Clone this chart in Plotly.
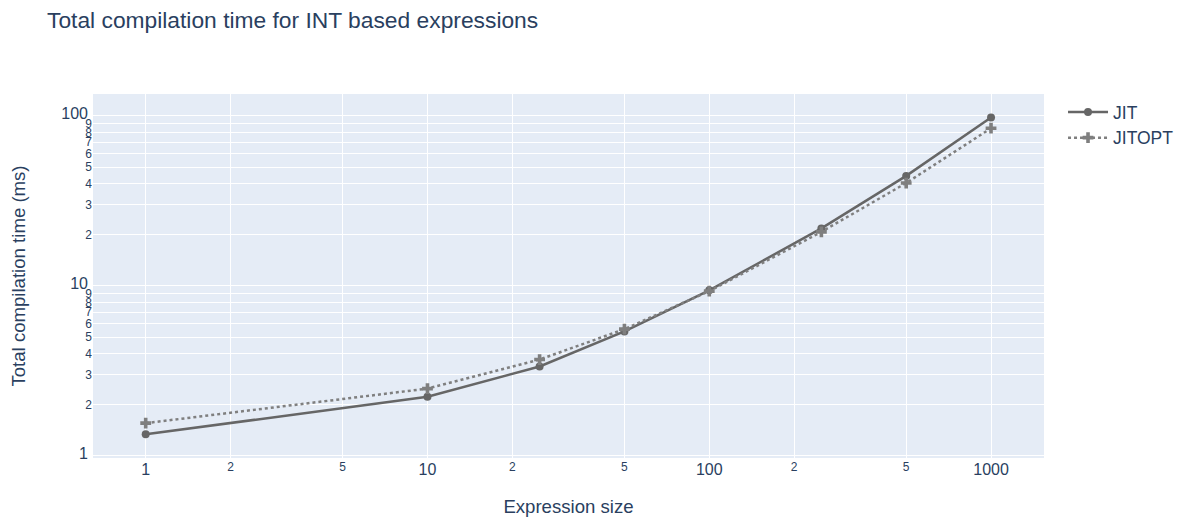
import plotly.graph_objects as go

sizes = [1, 10, 25, 50, 100, 250, 500, 1000]
jit = [1.34, 2.23, 3.36, 5.40, 9.42, 21.8, 44.4, 98.0]
jitopt = [1.56, 2.49, 3.69, 5.57, 9.32, 20.8, 40.3, 84.7]

W, H = 1181, 517

fig = go.Figure()
fig.add_trace(go.Scatter(x=sizes, y=jit, name="JIT", mode="lines+markers",
                         line=dict(color="#666666", width=2.5),
                         marker=dict(symbol="circle", size=8, color="#666666")))
fig.add_trace(go.Scatter(x=sizes, y=jitopt, name="JITOPT", mode="lines+markers",
                         line=dict(color="#7f7f7f", width=2.5, dash="dot"),
                         marker=dict(symbol="cross", size=9, color="#7f7f7f")))

fig.update_layout(
    template="plotly",
    width=W, height=H,
    font=dict(family="Liberation Sans, Arial, sans-serif", size=16),
    title=dict(text="Total compilation time for INT based expressions",
               x=47 / W, xanchor="left", xref="container",
               y=1 - 20 / H, yanchor="middle", yref="container",
               font=dict(size=22.8)),
    margin=dict(l=93, r=137, t=94, b=59, autoexpand=False),
    legend=dict(font=dict(size=17.5), itemwidth=40),
    xaxis=dict(type="log", automargin=False,
               title=dict(text="Expression size", font=dict(size=18.6), standoff=30),
               range=[-0.187, 3.188], tickfont=dict(size=16)),
    yaxis=dict(type="log", automargin=False,
               title=dict(text="Total compilation time (ms)", font=dict(size=18.6), standoff=30),
               range=[-0.012, 2.129], tickfont=dict(size=16)),
)
fig.write_html("out.html", config={"displayModeBar": False},
               post_script="document.body.style.margin='0';document.body.style.overflow='hidden';")
